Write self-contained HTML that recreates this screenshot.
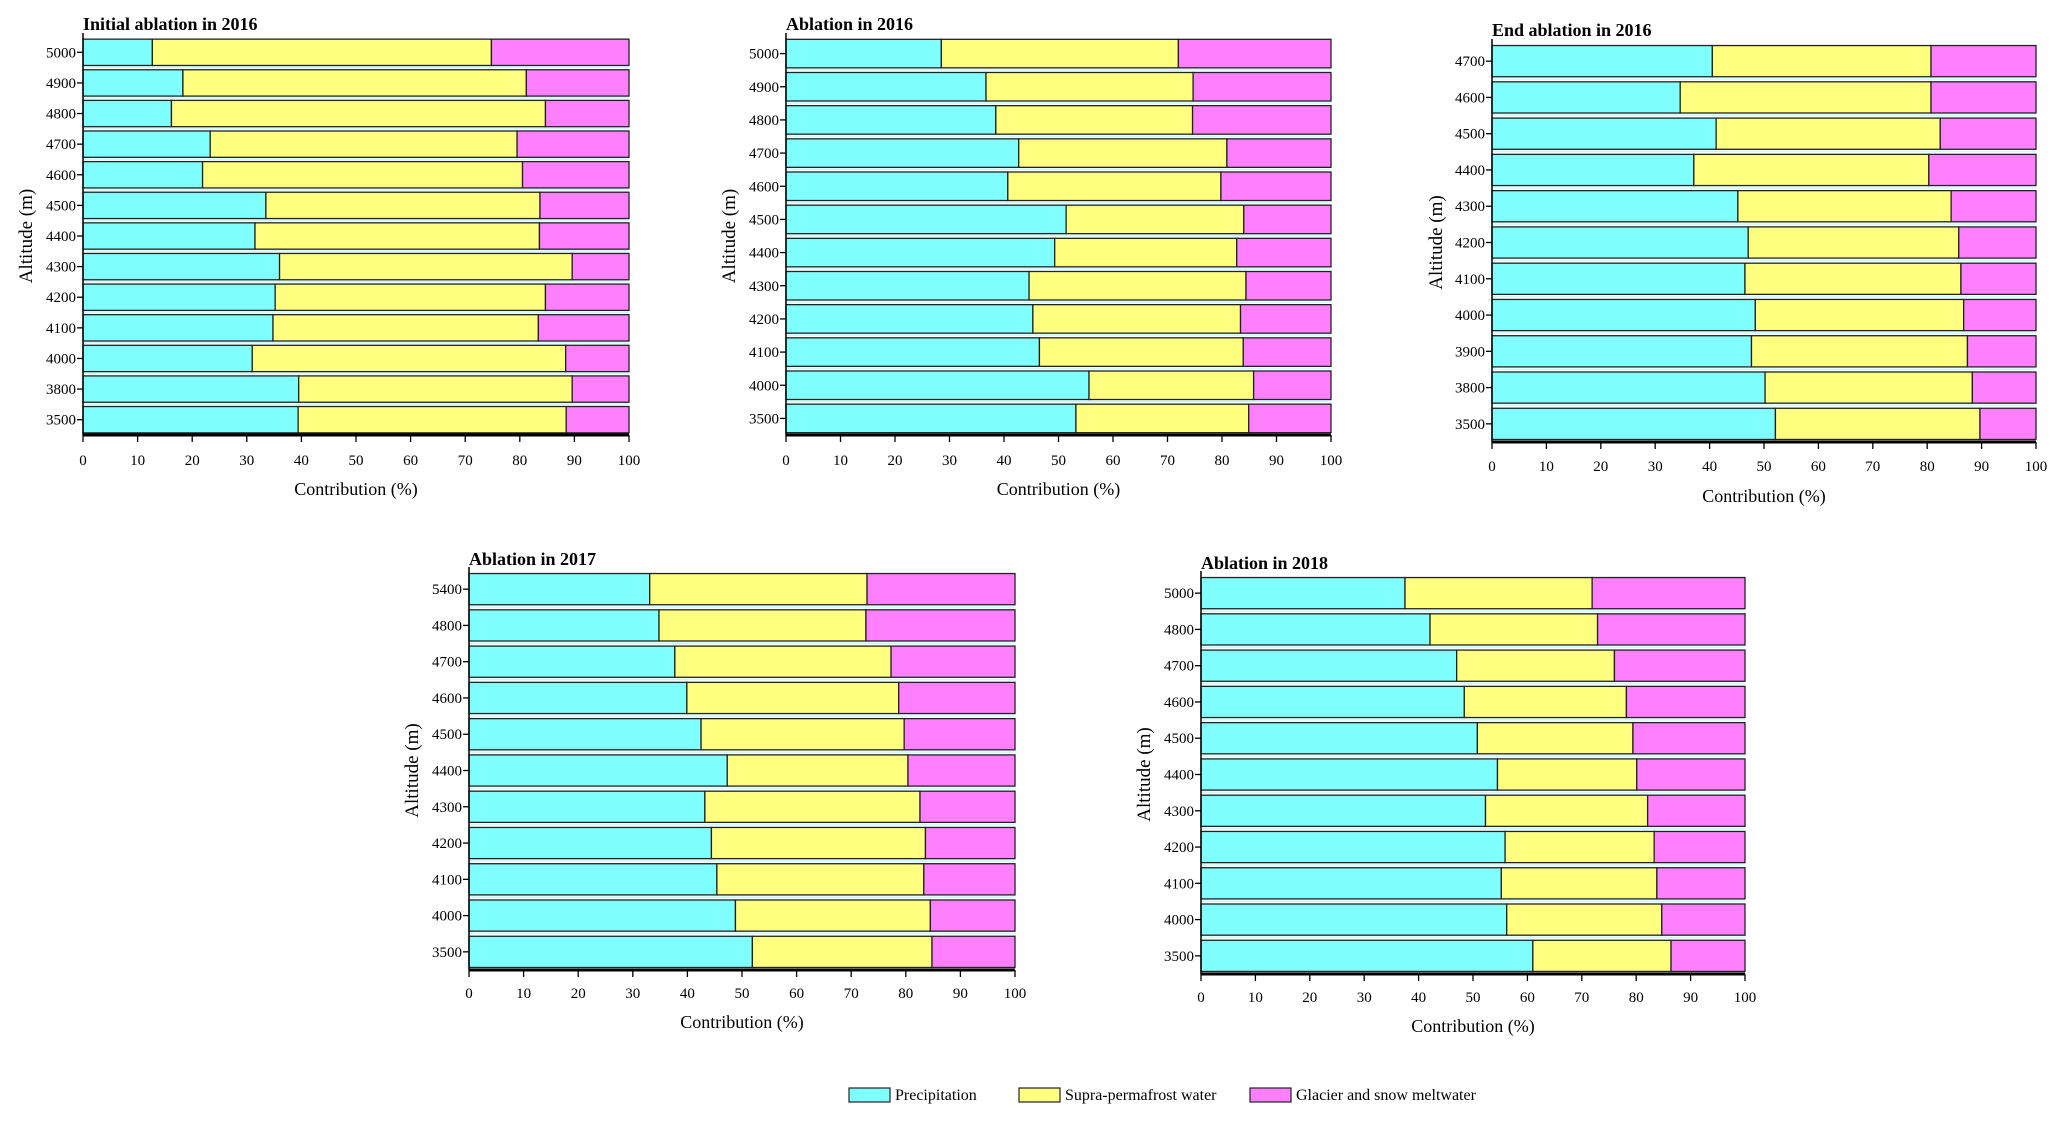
<!DOCTYPE html>
<html><head><meta charset="utf-8">
<style>
html,body{margin:0;padding:0;background:#fff;}
svg{display:block;font-family:"Liberation Serif",serif;}
</style></head>
<body>
<svg id="fig" width="2067" height="1126" viewBox="0 0 2067 1126" xmlns="http://www.w3.org/2000/svg"></svg>
<script>
// Panel 1: Initial ablation in 2016
const cats1 = ["5000","4900","4800","4700","4600","4500","4400","4300","4200","4100","4000","3800","3500"];
const precip1 = [12.7,18.3,16.2,23.3,21.9,33.5,31.5,36,35.2,34.8,31,39.5,39.4];
const supra1 = [62.1,62.9,68.5,56.2,58.6,50.2,52.1,53.6,49.5,48.6,57.4,50.1,49.1];
// Panel 2: Ablation in 2016
const cats2 = ["5000","4900","4800","4700","4600","4500","4400","4300","4200","4100","4000","3500"];
const precip2 = [28.5,36.7,38.5,42.7,40.7,51.4,49.3,44.6,45.3,46.5,55.6,53.2];
const supra2 = [43.5,38,36.1,38.2,39.1,32.6,33.4,39.8,38.1,37.4,30.2,31.7];
// Panel 3: End ablation in 2016
const cats3 = ["4700","4600","4500","4400","4300","4200","4100","4000","3900","3800","3500"];
const precip3 = [40.5,34.6,41.2,37.1,45.2,47.1,46.5,48.4,47.7,50.2,52.1];
const supra3 = [40.2,46.1,41.2,43.2,39.2,38.7,39.7,38.3,39.7,38.1,37.6];
// Panel 4: Ablation in 2017
const cats4 = ["5400","4800","4700","4600","4500","4400","4300","4200","4100","4000","3500"];
const precip4 = [33.1,34.8,37.7,39.9,42.5,47.3,43.2,44.4,45.4,48.8,51.9];
const supra4 = [39.8,37.9,39.6,38.8,37.2,33.1,39.4,39.2,37.9,35.7,32.9];
// Panel 5: Ablation in 2018
const cats5 = ["5000","4800","4700","4600","4500","4400","4300","4200","4100","4000","3500"];
const precip5 = [37.5,42.1,47,48.4,50.8,54.5,52.3,55.9,55.2,56.2,61];
const supra5 = [34.4,30.8,29,29.8,28.6,25.6,29.8,27.4,28.6,28.5,25.4];
const xTicks = [0,10,20,30,40,50,60,70,80,90,100];

const NS = "http://www.w3.org/2000/svg";
const svg = document.getElementById("fig");
function mk(tag, attrs, parent){
  const e = document.createElementNS(NS, tag);
  for (const k in attrs) e.setAttribute(k, attrs[k]);
  (parent||svg).appendChild(e);
  return e;
}
const COLORS = ["#80ffff","#ffff80","#ff80ff"];

function panel(id, title, cats, pre, sup, x0, x1, y0, y1, titleY, tickY, axY, ylabX){
  const g = mk("g", {});
  
  
  const xs = v => x0 + (x1 - x0) * v / 100;
  const n = cats.length;
  const band = (y1 - y0) / n;
  const t = mk("text", {x: x0, y: titleY, "font-size": 18, "font-weight": "bold"}, g);
  t.textContent = title;
  
  
  // gaps light stripes
  for (let i = 0; i < n; i++) {
    const by = y0 + i * band;
    const h = band * 0.86;
    const top = by + (band - h) / 2;
    if (i > 0) {
      const s = mk("rect", {x: x0, y: by - 1, width: x1 - x0, height: 1.5, fill: "#c8ffff"}, g);
      
      
    }
    const p = pre[i], s2 = sup[i];
    const segs = [[0, p], [p, p + s2], [p + s2, 100]];
    const names = ["precipitation", "supra-permafrost", "meltwater"];
    segs.forEach((sg, k) => {
      const r = mk("rect", {x: xs(sg[0]), y: top, width: xs(sg[1]) - xs(sg[0]), height: h,
        fill: COLORS[k], stroke: "#222", "stroke-width": 1.3}, g);
      
      
    });
    const cy = by + band / 2;
    mk("line", {x1: x0 - 6, x2: x0, y1: cy, y2: cy, stroke: "#000", "stroke-width": 1.3}, g);
    const yl = mk("text", {x: x0 - 7, y: cy + 5, "font-size": 15, "text-anchor": "end"}, g);
    yl.textContent = cats[i];
    
    
  }
  // axes
  mk("line", {x1: x0, x2: x0, y1: y0 - 4, y2: y1, stroke: "#000", "stroke-width": 1.5}, g);
  mk("line", {x1: x0, x2: x1, y1: y1, y2: y1, stroke: "#000", "stroke-width": 3}, g);
  xTicks.forEach(v => {
    mk("line", {x1: xs(v), x2: xs(v), y1: y1, y2: y1 + 7, stroke: "#000", "stroke-width": 1.3}, g);
    const tl = mk("text", {x: xs(v), y: tickY, "font-size": 15, "text-anchor": "middle"}, g);
    tl.textContent = v;
    
    
  });
  const xt = mk("text", {x: (x0 + x1) / 2, y: axY, "font-size": 18, "text-anchor": "middle"}, g);
  xt.textContent = "Contribution (%)";
  
  
  const cyM = (y0 + y1) / 2;
  const yt = mk("text", {x: ylabX, y: cyM, "font-size": 19, "text-anchor": "middle",
    transform: "rotate(-90 " + ylabX + " " + cyM + ")"}, g);
  yt.textContent = "Altitude (m)";
  
  
}

panel("panel-initial-2016", "Initial ablation in 2016", cats1, precip1, supra1, 83, 629, 37, 435, 30, 465, 495, 32);
panel("panel-ablation-2016", "Ablation in 2016", cats2, precip2, supra2, 786, 1331, 37, 435, 30, 465, 495, 735);
panel("panel-end-2016", "End ablation in 2016", cats3, precip3, supra3, 1492, 2036, 43, 442, 36, 471, 502, 1442);
panel("panel-ablation-2017", "Ablation in 2017", cats4, precip4, supra4, 469, 1015, 571, 970, 565, 998, 1028, 418);
panel("panel-ablation-2018", "Ablation in 2018", cats5, precip5, supra5, 1201, 1745, 575, 974, 569, 1002, 1032, 1150);

// legend
const legend = mk("g", {});


const legItems = [["Precipitation", 849], ["Supra-permafrost water", 1019], ["Glacier and snow meltwater", 1250]];
legItems.forEach((it, k) => {
  const r = mk("rect", {x: it[1], y: 1088, width: 41, height: 14, fill: COLORS[k], stroke: "#222", "stroke-width": 1.2}, legend);
  
  
  const t = mk("text", {x: it[1] + 46, y: 1100, "font-size": 16}, legend);
  t.textContent = it[0];
  
  
});
</script>
</body></html>
